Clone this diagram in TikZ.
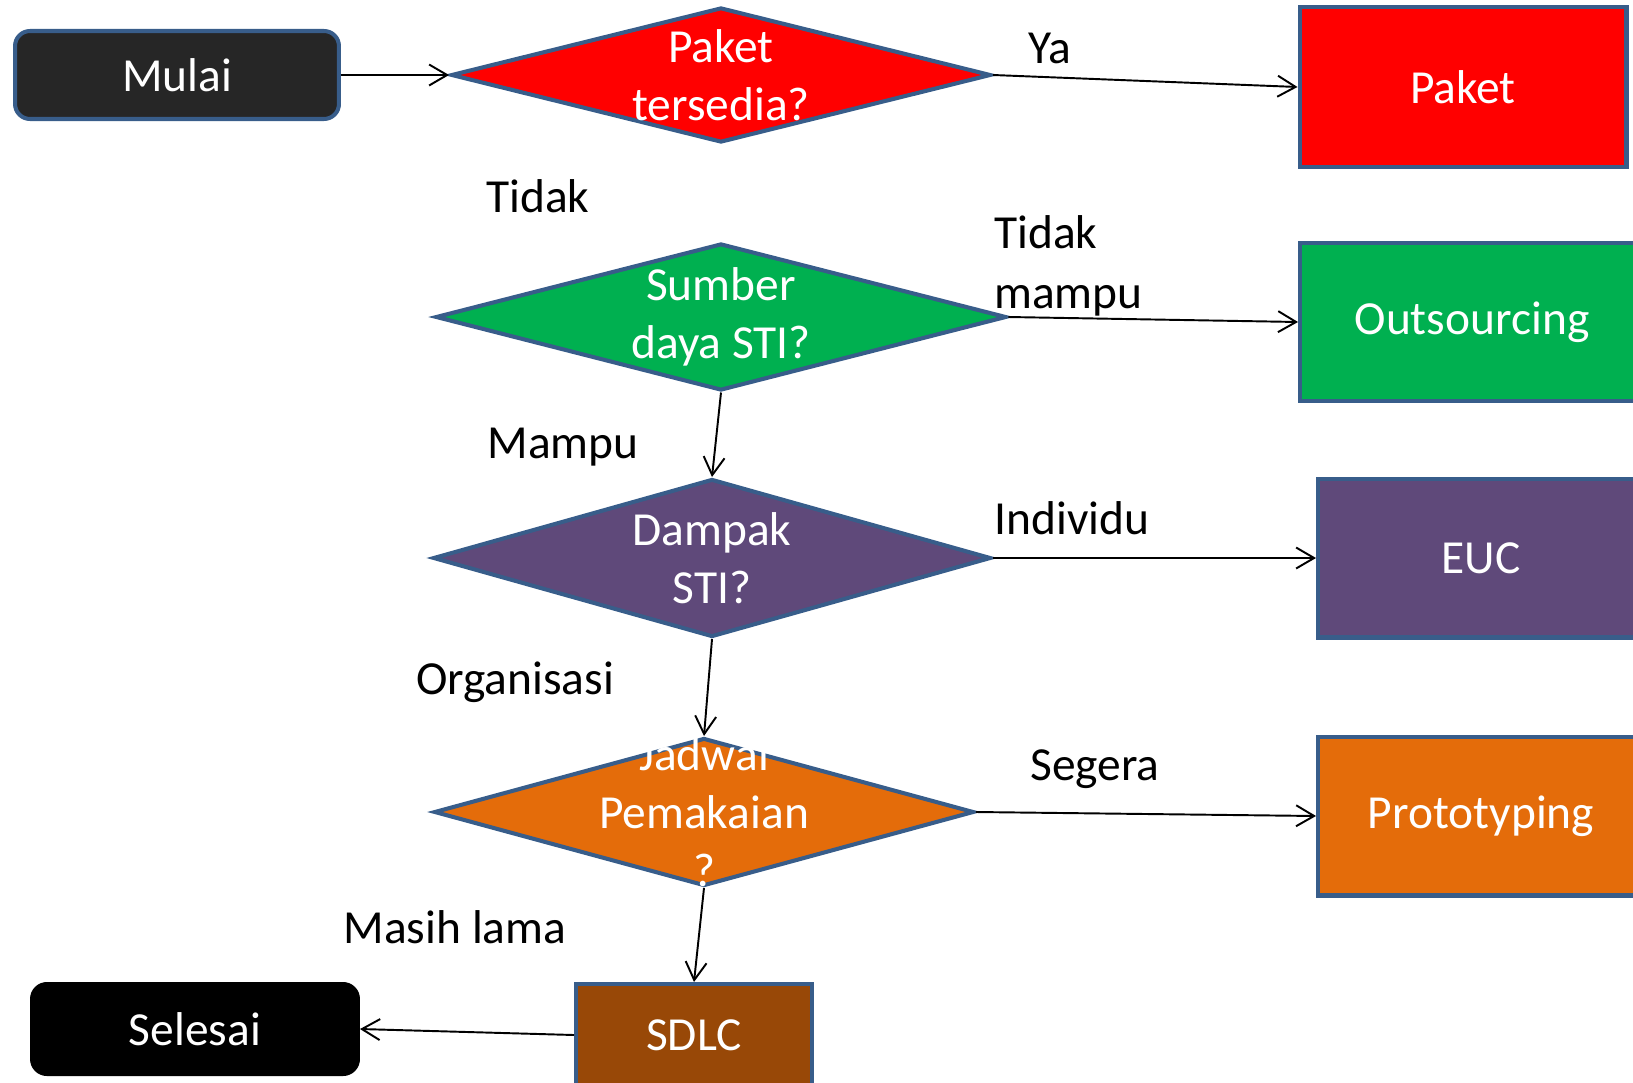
\documentclass[tikz,border=0pt]{standalone}
\usepackage{fontspec}
\setmainfont{Carlito}
\usetikzlibrary{shapes.geometric,arrows.meta}
\definecolor{rim}{HTML}{385D8A}
\definecolor{dark}{HTML}{262626}
\definecolor{pgreen}{HTML}{00B050}
\definecolor{ppurple}{HTML}{5F497A}
\definecolor{porange}{HTML}{E46C0A}
\definecolor{pbrown}{HTML}{984807}
\begin{document}
\begin{tikzpicture}[x=0.02cm,y=-0.02cm,
	every node/.style={font=\fontsize{27}{31}\selectfont},
	box/.style={draw=rim,line width=2.3pt,text=white,inner sep=0pt},
	term/.style={box,rounded corners=0.3cm},
	choice/.style={diamond,draw=rim,line width=2.3pt,inner sep=0pt},
	qtext/.style={text=white,align=center,font=\fontsize{27}{33}\selectfont},
	arr/.style={line width=1.1pt,-{Straight Barb[length=0.36cm,width=0.42cm,line width=1.1pt]}},
	lbl/.style={align=left,font=\fontsize{27}{34}\selectfont}]
	\path[use as bounding box,clip](0,0)rectangle(1633,1082);
	% start and end
	\node[term,fill=dark,minimum width=6.48cm,minimum height=1.76cm](mulai)at(177,75){Mulai};
	\node[term,draw=black,fill=black,minimum width=6.52cm,minimum height=1.8cm](selesai)at(195,1029){Selesai};
	% questions
	\node[choice,fill=red,minimum width=10.8cm,minimum height=2.7cm,label={[qtext]center:Paket\\tersedia?}](paket?)at(721,75){};
	\node[choice,fill=pgreen,minimum width=11.42cm,minimum height=2.94cm,label={[qtext]center:Sumber\\daya STI?}](sumber?)at(721,317){};
	\node[choice,fill=ppurple,minimum width=11.16cm,minimum height=3.16cm,label={[qtext]center:Dampak\\STI?}](dampak?)at(712,558){};
	\node[choice,fill=porange,minimum width=10.8cm,minimum height=2.96cm,label={[qtext]center:Jadwal\\Pemakaian\\?}](jadwal?)at(704,812){};
	% outcomes
	\node[box,fill=red,minimum width=6.54cm,minimum height=3.2cm](paket)at(1463,87){Paket};
	\node[box,fill=pgreen,minimum width=6.88cm,minimum height=3.16cm](outs)at(1472,322){Outsourcing};
	\node[box,fill=ppurple,minimum width=6.52cm,minimum height=3.18cm](euc)at(1481,558){EUC};
	\node[box,fill=porange,minimum width=6.52cm,minimum height=3.18cm](proto)at(1481,816){Prototyping};
	\node[box,fill=pbrown,minimum width=4.72cm,minimum height=2.04cm](sdlc)at(694,1035){SDLC};
	% connectors
	\draw[arr](mulai.east)--(paket?.west);
	\draw[arr](paket?.east)--(paket.west);
	\draw[arr](sumber?.east)--(outs.west);
	\draw[arr](sumber?.south)--(dampak?.north);
	\draw[arr](dampak?.east)--(euc.west);
	\draw[arr](dampak?.south)--(jadwal?.north);
	\draw[arr](jadwal?.east)--(proto.west);
	\draw[arr](jadwal?.south)--(sdlc.north);
	\draw[arr](sdlc.west)--(selesai.east);
	% answers
	\node[lbl](ya)at(1050,48){Ya};
	\node[lbl](tidak)at(538,196){Tidak};
	\node[lbl,anchor=west](tmampu)at(988,266){Tidak\\mampu};
	\node[lbl](mampu)at(563,447){Mampu};
	\node[lbl](indiv)at(1072,518){Individu};
	\node[lbl](org)at(515,682){Organisasi};
	\node[lbl](segera)at(1095,769){Segera};
	\node[lbl](lama)at(455,927){Masih lama};
\end{tikzpicture}
\end{document}
